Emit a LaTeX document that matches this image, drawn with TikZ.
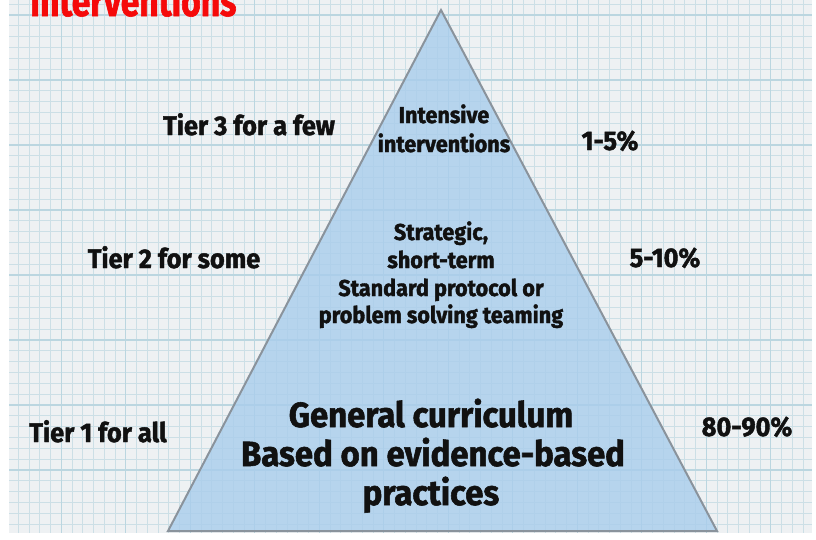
\documentclass[tikz,border=0pt]{standalone}
\usepackage{fontspec}
\newfontfamily\hand{Fira Sans}[FakeStretch=0.94, FakeBold=1.6]
\newfontfamily\titlefont{Fira Sans}[FakeStretch=0.8, FakeBold=1.5]
\definecolor{bgc}{HTML}{EEF1F3}
\definecolor{minorc}{HTML}{CCDFE6}
\definecolor{majorc}{HTML}{BBD6E0}
\definecolor{trifill}{HTML}{A9CDEC}
\definecolor{triline}{HTML}{8A939C}
\definecolor{ink}{HTML}{111111}
\definecolor{titlered}{HTML}{F50A0A}
\tikzset{
  minorline/.style={draw=minorc, line width=0.9pt},
  majorline/.style={draw=majorc, line width=1.3pt},
  tri/.style={fill=trifill, fill opacity=0.8, draw=triline, line width=2pt, line join=miter},
  lbl/.style={inner sep=0pt, anchor=base, text=ink, font=\hand\bfseries\fontsize{27}{30}\selectfont},
  inlbl/.style={inner sep=0pt, anchor=base, text=ink, font=\hand\bfseries\fontsize{23}{26}\selectfont},
  biglbl/.style={inner sep=0pt, anchor=base, text=ink, font=\hand\bfseries\fontsize{35}{38}\selectfont},
}
\begin{document}
\begin{tikzpicture}[x=1pt, y=-1pt]
\useasboundingbox (0,0) rectangle (816,539);
\fill[white] (0,0) rectangle (816,539);
\begin{scope}
  \clip (9,0) rectangle (812,533);
  \fill[bgc] (9,0) rectangle (812,533);
  \foreach \i in {0,...,78} {\draw[minorline] ({-3.3+\i*10.75},0) -- ({-3.3+\i*10.75},533);}
  \foreach \i in {0,...,52} {\draw[minorline] (9,{-6.7+\i*10.83}) -- (812,{-6.7+\i*10.83});}
  \foreach \i in {0,...,13} {\draw[majorline] ({-3.3+\i*64.5},0) -- ({-3.3+\i*64.5},533);}
  \foreach \i in {0,...,9} {\draw[majorline] (9,{15+\i*65}) -- (812,{15+\i*65});}
\end{scope}
% title (cut off at the top, as in the reference)
\begin{scope}
  \clip (0,0) rectangle (816,539);
  \node[inner sep=0pt, anchor=base west, text=titlered, font=\titlefont\bfseries\fontsize{42}{44}\selectfont] (title) at (30,16) {Interventions};
\end{scope}
% pyramid
\coordinate (apex) at (441,10);
\coordinate (bl) at (168,531);
\coordinate (br) at (717,531);
\filldraw[tri] (apex) -- (br) -- (bl) -- cycle;
% left labels
\node[lbl] (t3) at (249,135) {Tier 3 for a few};
\node[lbl] (t2) at (174,268) {Tier 2 for some};
\node[lbl] (t1) at (98,442) {Tier 1 for all};
% right labels
\node[lbl] (p3) at (610,150) {1-5\%};
\node[lbl] (p2) at (665,267) {5-10\%};
\node[lbl] (p1) at (747,436) {80-90\%};
% inside the pyramid
\node[inlbl] (a1) at (444,123) {Intensive};
\node[inlbl] (a2) at (444,152) {interventions};
\node[inlbl] (b1) at (441,240) {Strategic,};
\node[inlbl] (b2) at (441,268) {short-term};
\node[inlbl] (b3) at (441,296) {Standard protocol or};
\node[inlbl] (b4) at (441,323) {problem solving teaming};
\node[biglbl] (c1) at (431,427) {General curriculum};
\node[biglbl] (c2) at (433,466) {Based on evidence-based};
\node[biglbl] (c3) at (431,505) {practices};
\end{tikzpicture}
\end{document}
